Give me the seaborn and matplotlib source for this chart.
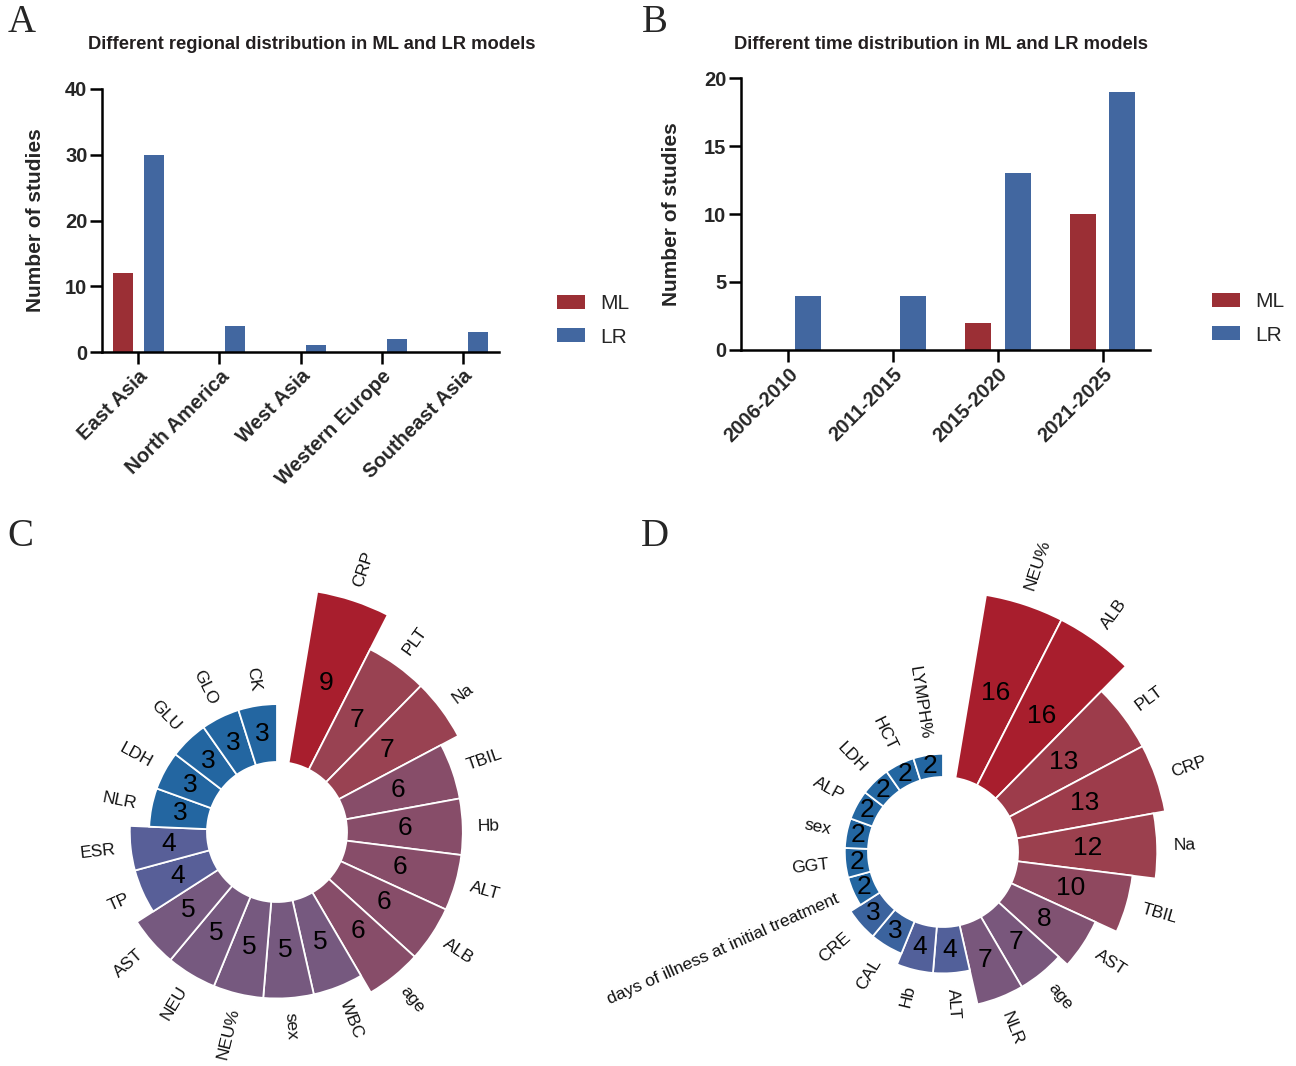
import numpy as np
import pandas as pd
import matplotlib
matplotlib.use("Agg")
import matplotlib.pyplot as plt
from matplotlib.colors import LinearSegmentedColormap
import seaborn as sns

# ---- data ----
regions = ['East Asia', 'North America', 'West Asia', 'Western Europe', 'Southeast Asia']
region_ml = [12, 0, 0, 0, 0]
region_lr = [30, 4, 1, 2, 3]

periods = ['2006-2010', '2011-2015', '2015-2020', '2021-2025']
period_ml = [0, 0, 2, 10]
period_lr = [4, 4, 13, 19]

ml_vars = ['CRP', 'PLT', 'Na', 'TBIL', 'Hb', 'ALT', 'ALB', 'age', 'WBC', 'sex',
           'NEU%', 'NEU', 'AST', 'TP', 'ESR', 'NLR', 'LDH', 'GLU', 'GLO', 'CK']
ml_counts = [9, 7, 7, 6, 6, 6, 6, 6, 5, 5, 5, 5, 5, 4, 4, 3, 3, 3, 3, 3]

lr_vars = ['NEU%', 'ALB', 'PLT', 'CRP', 'Na', 'TBIL', 'AST', 'age', 'NLR', 'ALT',
           'Hb', 'CAL', 'CRE', 'days of illness at initial treatment', 'GGT', 'sex',
           'ALP', 'LDH', 'HCT', 'LYMPH%']
lr_counts = [16, 16, 13, 13, 12, 10, 8, 7, 7, 4, 4, 3, 3, 2, 2, 2, 2, 2, 2, 2]

ML_COLOR = '#9B2F35'
LR_COLOR = '#4267A0'

sns.set_theme(style='ticks')
plt.rcParams['font.family'] = ['Liberation Sans', 'DejaVu Sans']

W, H = 1296, 1066
fig = plt.figure(figsize=(W / 100, H / 100), dpi=100)

grad = LinearSegmentedColormap.from_list('bluered', [
    (0.0, '#2366A1'), (0.15, '#55609A'), (0.33, '#76597F'), (0.5, '#874D69'),
    (0.68, '#9A4150'), (0.8, '#9D3C4A'), (1.0, '#A81E2D')])


def bar_panel(rect, cats, ml, lr, ymax, yticks, title, title_x, ylab_x, leg_anchor):
    ax = fig.add_axes(rect)
    df = pd.DataFrame({'cat': cats * 2,
                       'n': ml + lr,
                       'model': ['ML'] * len(cats) + ['LR'] * len(cats)})
    sns.barplot(data=df, x='cat', y='n', hue='model', hue_order=['ML', 'LR'],
                palette={'ML': ML_COLOR, 'LR': LR_COLOR}, width=0.75, gap=0.34,
                saturation=1, linewidth=0, ax=ax)
    sns.despine(ax=ax)
    for s in ['left', 'bottom']:
        ax.spines[s].set_linewidth(1.8)
        ax.spines[s].set_color('black')
    ax.set_xlim(-0.45, len(cats) - 0.55)
    ax.set_ylim(0, ymax)
    ax.set_yticks(yticks)
    ax.tick_params(axis='both', width=1.8, length=8.5, direction='out',
                   color='black', pad=2)
    ax.set_xticks(range(len(cats)))
    ax.set_xticklabels(cats, rotation=45, ha='right', rotation_mode='anchor',
                       fontweight='bold', fontsize=14.5)
    plt.setp(ax.get_yticklabels(), fontweight='bold', fontsize=14.5)
    ax.set_xlabel('')
    ax.set_ylabel('Number of studies', fontsize=15, fontweight='bold')
    ax.yaxis.set_label_coords(ylab_x, 0.5)
    handles, labels = ax.get_legend_handles_labels()
    ax.legend(handles, labels, loc='center left', bbox_to_anchor=leg_anchor,
              frameon=False, fontsize=15, handlelength=1.35, handleheight=0.67,
              labelspacing=0.68, handletextpad=0.72, borderpad=0, borderaxespad=0)
    fig.text(title_x / W, 1 - 44 / H, title, ha='center', va='center',
             fontsize=13.2, fontweight='bold', color='#231f20')
    return ax


def circle_panel(cx, cy, labels, values, px_per_unit, hole_px, label_pad_px):
    vmax = max(values)
    hole = hole_px / px_per_unit
    radius = (vmax + hole) * px_per_unit
    ax = fig.add_axes([(cx - radius) / W, (H - cy - radius) / H,
                       2 * radius / W, 2 * radius / H], projection='polar')
    vals = np.array(values, dtype=float)
    n = len(vals)
    gap = np.deg2rad(9.5)
    width = (2 * np.pi - gap) / n
    theta = gap + width * np.arange(n)
    norm = (vals - vals.min()) / (vals.max() - vals.min())
    ax.bar(theta, vals, width=width, align='edge', color=grad(norm),
           edgecolor='white', linewidth=1.3, clip_on=False)
    ax.set_theta_zero_location('N')
    ax.set_theta_direction(-1)
    ax.set_ylim(0, vmax)
    ax.set_rorigin(-hole)
    ax.axis('off')
    pad = label_pad_px / px_per_unit
    for t, v, lab in zip(theta + width / 2, values, labels):
        ax.text(t, v / 2, str(v), ha='center', va='center', fontsize=19,
                color='black')
        deg = np.rad2deg(t)
        if deg < 180:
            rot, ha = 90 - deg, 'left'
        else:
            rot, ha = 270 - deg, 'right'
        ax.text(t, v + pad, lab, rotation=rot, rotation_mode='anchor',
                ha=ha, va='center', fontsize=12.5, color='#111111')
    return ax


# ---- Panel A: regions ----
bar_panel([102 / W, 1 - 352 / H, 397 / W, 263 / H], regions, region_ml, region_lr,
          40, [0, 10, 20, 30, 40],
          'Different regional distribution in ML and LR models', 312, -0.144,
          (1.146, 0.12))

# ---- Panel B: time periods ----
bar_panel([741 / W, 1 - 350 / H, 409 / W, 272 / H], periods, period_ml, period_lr,
          20, [0, 5, 10, 15, 20],
          'Different time distribution in ML and LR models', 941, -0.147,
          (1.152, 0.116))

# ---- Panel C / D: circular bars ----
circle_panel(277, 832, ml_vars, ml_counts, 19.3, 70, 15)
circle_panel(943, 852, lr_vars, lr_counts, 11.6, 75, 16)

# panel letters
for letter, x, y in [('A', 22, 22), ('B', 655, 22), ('C', 20, 537), ('D', 655, 537)]:
    fig.text(x / W, 1 - y / H, letter, ha='center', va='center', fontsize=28,
             family=['Liberation Serif', 'DejaVu Serif'])

fig.savefig('out.png', dpi=100)
